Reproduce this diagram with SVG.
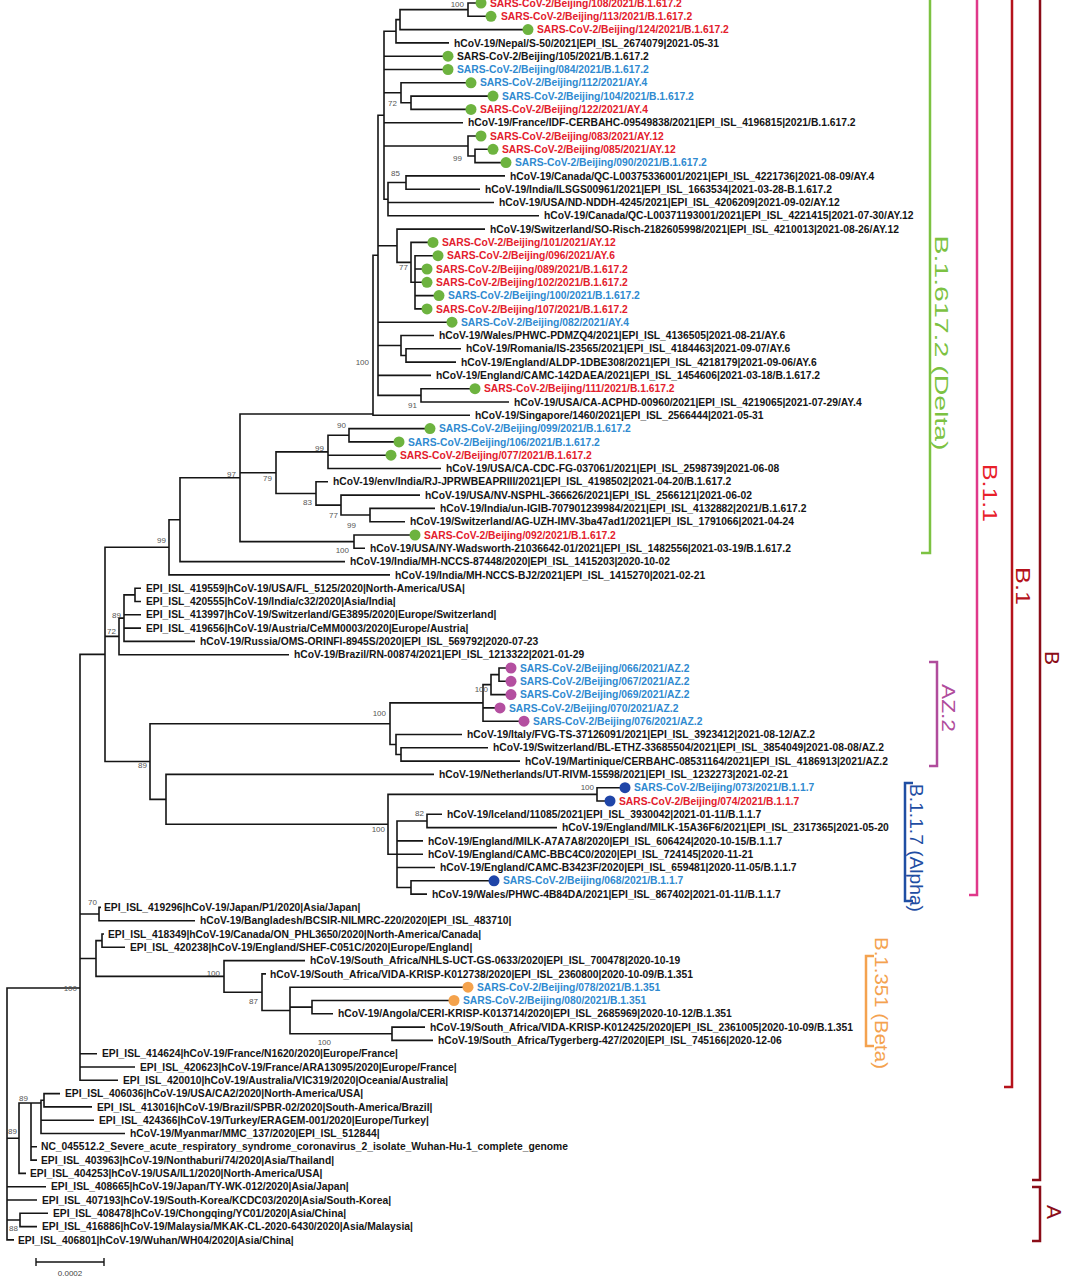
<svg xmlns="http://www.w3.org/2000/svg" width="1067" height="1280" viewBox="0 0 1067 1280">
<style>
.t{font-family:"Liberation Sans",Arial,sans-serif;font-size:10.3px;font-weight:bold;fill:#151515}
.r{fill:#e3202c}
.b{fill:#2f8ad0}
.bs{font-family:"Liberation Sans",Arial,sans-serif;font-size:8px;fill:#555;text-anchor:end}
.e{fill:none;stroke:#151515;stroke-width:1.6}
.dg{fill:#6db33f}.dp{fill:#b44fa0}.dn{fill:#1f45a8}.do{fill:#f4a24c}
.br{fill:none;stroke-width:2.5}
.bl{font-family:"Liberation Sans",Arial,sans-serif;font-weight:normal}
</style>
<rect width="1067" height="1280" fill="#fff"/>
<g id="connectors" class="e">
<path d="M476 3H468V16.3H486"/>
<path d="M468 9.65H400V29.6H523"/>
<path d="M400 19.6H396V42.9H449"/>
<path d="M466 82.8H401V102.75H411"/>
<path d="M488 96.1H411V109.4H466"/>
<path d="M488 149.3H475V162.6H501"/>
<path d="M476 136H468V155.95H475"/>
<path d="M505 175.9H406V189.2H480"/>
<path d="M406 182.55H388V215.8H539M388 202.5H494"/>
<path d="M396 31.3H384V199.2H388M384 56.2H443M384 69.5H443M384 92.8H401M384 122.7H463M384 146H468"/>
<path d="M433 255.7H415V308.9H422M415 269H422M415 282.3H422M415 295.6H434"/>
<path d="M428 242.4H411V282.3H415"/>
<path d="M485 229.1H397V262.35H411"/>
<path d="M461 348.8H406V362.1H456"/>
<path d="M434 335.5H401V355.45H406"/>
<path d="M470 388.7H421V402H509"/>
<path d="M384 115.25H378V395.35H421M378 245.7H397M378 322.2H447M378 345.5H401M378 375.4H431"/>
<path d="M378 255.3H373V415.3H470"/>
<path d="M425 428.6H349V441.9H394"/>
<path d="M349 435.25H328V468.5H441M328 455.2H386"/>
<path d="M435 508.4H370V521.7H405"/>
<path d="M420 495.1H341V515.05H370"/>
<path d="M328 481.8H316V505.1H341"/>
<path d="M328 451.9H276V493.45H316"/>
<path d="M410 535H354V548.3H365"/>
<path d="M373 414H240V541.65H354M240 472.7H276"/>
<path d="M240 477.8H180V561.6H345"/>
<path d="M180 519.7H169V574.9H390"/>
<path d="M141 588.2H135V601.5H141"/>
<path d="M135 594.85H124V641.4H195M124 614.8H141M124 628.1H141"/>
<path d="M124 618.1H119V654.7H289"/>
<path d="M506 668H499V681.3H506"/>
<path d="M499 674.65H491V694.6H506"/>
<path d="M491 684.6H483V721.2H519M483 707.9H495"/>
<path d="M488 747.8H401V761.1H520"/>
<path d="M462 734.5H396V754.45H401"/>
<path d="M483 702.9H390V744.5H396"/>
<path d="M620 787.7H597V801H605"/>
<path d="M442 814.3H427V827.6H557"/>
<path d="M489 880.8H411V894.1H427"/>
<path d="M427 820.95H397V887.45H411M397 840.9H423M397 854.2H423M397 867.5H435"/>
<path d="M597 794.35H388V854.2H397"/>
<path d="M434 774.4H166V824.3H388"/>
<path d="M390 723.7H150V799.35H166"/>
<path d="M169 547.3H105V761.5H150M105 636.4H119"/>
<path d="M101 907.4H99V920.7H195"/>
<path d="M104 934H102V947.3H125"/>
<path d="M102 940.65H96V976.4H224"/>
<path d="M425 1027.1H392V1040.4H433"/>
<path d="M449 1000.5H312V1013.8H333"/>
<path d="M463 987.2H290V1033.75H392M290 1007.15H312"/>
<path d="M266 973.9H262V1010.5H290"/>
<path d="M305 960.6H224V992.2H262"/>
<path d="M105 654.4H80V1080.3H118M80 914.05H99M80 958.5H96M80 1053.7H97M80 1067H135"/>
<path d="M60 1093.6H44V1106.9H92"/>
<path d="M44 1100.25H41V1133.5H125M41 1120.2H94"/>
<path d="M31 1103V1160.1H37M31 1146.8H37"/>
<path d="M41 1103H19V1173.4H26"/>
<path d="M48 1213.3H20V1226.6H37"/>
<path d="M80 988H7V1239.9H14M7 1138.2H19M7 1186.7H46M7 1200H37M7 1219.95H20"/>
</g>
<g id="bootstrap" class="bs">
<text x="464" y="6.5">100</text>
<text x="397" y="106">72</text>
<text x="462" y="161">99</text>
<text x="400" y="176">85</text>
<text x="408" y="270">77</text>
<text x="369" y="365">100</text>
<text x="417" y="408">91</text>
<text x="346" y="428">90</text>
<text x="324" y="451">99</text>
<text x="236" y="477">97</text>
<text x="272" y="481">79</text>
<text x="312" y="505">83</text>
<text x="338" y="518">77</text>
<text x="356" y="528">99</text>
<text x="349" y="553">100</text>
<text x="166" y="543">99</text>
<text x="121" y="618">89</text>
<text x="116" y="634">72</text>
<text x="488" y="692">100</text>
<text x="386" y="716">100</text>
<text x="147" y="768">89</text>
<text x="594" y="790">100</text>
<text x="424" y="816">82</text>
<text x="385" y="832">100</text>
<text x="97" y="905">70</text>
<text x="220" y="976">100</text>
<text x="258" y="1004">87</text>
<text x="331" y="1045">100</text>
<text x="77" y="991">100</text>
<text x="28" y="1101">89</text>
<text x="17" y="1134">89</text>
<text x="18" y="1231">88</text>
</g>
<g id="leaves">
<g id="L1"><circle class="dg" cx="481" cy="3" r="5.5"/><text class="t r" x="490" y="6.6">SARS-CoV-2/Beijing/108/2021/B.1.617.2</text></g>
<g id="L2"><circle class="dg" cx="491" cy="16.3" r="5.5"/><text class="t r" x="501" y="19.9">SARS-CoV-2/Beijing/113/2021/B.1.617.2</text></g>
<g id="L3"><circle class="dg" cx="528" cy="29.6" r="5.5"/><text class="t r" x="537" y="33.2">SARS-CoV-2/Beijing/124/2021/B.1.617.2</text></g>
<g id="L4"><text class="t" x="454" y="46.5">hCoV-19/Nepal/S-50/2021|EPI_ISL_2674079|2021-05-31</text></g>
<g id="L5"><circle class="dg" cx="448" cy="56.2" r="5.5"/><text class="t" x="457" y="59.8">SARS-CoV-2/Beijing/105/2021/B.1.617.2</text></g>
<g id="L6"><circle class="dg" cx="448" cy="69.5" r="5.5"/><text class="t b" x="457" y="73.1">SARS-CoV-2/Beijing/084/2021/B.1.617.2</text></g>
<g id="L7"><circle class="dg" cx="471" cy="82.8" r="5.5"/><text class="t b" x="480" y="86.4">SARS-CoV-2/Beijing/112/2021/AY.4</text></g>
<g id="L8"><circle class="dg" cx="493" cy="96.1" r="5.5"/><text class="t b" x="502" y="99.7">SARS-CoV-2/Beijing/104/2021/B.1.617.2</text></g>
<g id="L9"><circle class="dg" cx="471" cy="109.4" r="5.5"/><text class="t r" x="480" y="113">SARS-CoV-2/Beijing/122/2021/AY.4</text></g>
<g id="L10"><text class="t" x="468" y="126.3">hCoV-19/France/IDF-CERBAHC-09549838/2021|EPI_ISL_4196815|2021/B.1.617.2</text></g>
<g id="L11"><circle class="dg" cx="481" cy="136" r="5.5"/><text class="t r" x="490" y="139.6">SARS-CoV-2/Beijing/083/2021/AY.12</text></g>
<g id="L12"><circle class="dg" cx="493" cy="149.3" r="5.5"/><text class="t r" x="502" y="152.9">SARS-CoV-2/Beijing/085/2021/AY.12</text></g>
<g id="L13"><circle class="dg" cx="506" cy="162.6" r="5.5"/><text class="t b" x="515" y="166.2">SARS-CoV-2/Beijing/090/2021/B.1.617.2</text></g>
<g id="L14"><text class="t" x="510" y="179.5">hCoV-19/Canada/QC-L00375336001/2021|EPI_ISL_4221736|2021-08-09/AY.4</text></g>
<g id="L15"><text class="t" x="485" y="192.8">hCoV-19/India/ILSGS00961/2021|EPI_ISL_1663534|2021-03-28-B.1.617.2</text></g>
<g id="L16"><text class="t" x="499" y="206.1">hCoV-19/USA/ND-NDDH-4245/2021|EPI_ISL_4206209|2021-09-02/AY.12</text></g>
<g id="L17"><text class="t" x="544" y="219.4">hCoV-19/Canada/QC-L00371193001/2021|EPI_ISL_4221415|2021-07-30/AY.12</text></g>
<g id="L18"><text class="t" x="490" y="232.7">hCoV-19/Switzerland/SO-Risch-2182605998/2021|EPI_ISL_4210013|2021-08-26/AY.12</text></g>
<g id="L19"><circle class="dg" cx="433" cy="242.4" r="5.5"/><text class="t r" x="442" y="246">SARS-CoV-2/Beijing/101/2021/AY.12</text></g>
<g id="L20"><circle class="dg" cx="438" cy="255.7" r="5.5"/><text class="t r" x="447" y="259.3">SARS-CoV-2/Beijing/096/2021/AY.6</text></g>
<g id="L21"><circle class="dg" cx="427" cy="269" r="5.5"/><text class="t r" x="436" y="272.6">SARS-CoV-2/Beijing/089/2021/B.1.617.2</text></g>
<g id="L22"><circle class="dg" cx="427" cy="282.3" r="5.5"/><text class="t r" x="436" y="285.9">SARS-CoV-2/Beijing/102/2021/B.1.617.2</text></g>
<g id="L23"><circle class="dg" cx="439" cy="295.6" r="5.5"/><text class="t b" x="448" y="299.2">SARS-CoV-2/Beijing/100/2021/B.1.617.2</text></g>
<g id="L24"><circle class="dg" cx="427" cy="308.9" r="5.5"/><text class="t r" x="436" y="312.5">SARS-CoV-2/Beijing/107/2021/B.1.617.2</text></g>
<g id="L25"><circle class="dg" cx="452" cy="322.2" r="5.5"/><text class="t b" x="461" y="325.8">SARS-CoV-2/Beijing/082/2021/AY.4</text></g>
<g id="L26"><text class="t" x="439" y="339.1">hCoV-19/Wales/PHWC-PDMZQ4/2021|EPI_ISL_4136505|2021-08-21/AY.6</text></g>
<g id="L27"><text class="t" x="466" y="352.4">hCoV-19/Romania/IS-23565/2021|EPI_ISL_4184463|2021-09-07/AY.6</text></g>
<g id="L28"><text class="t" x="461" y="365.7">hCoV-19/England/ALDP-1DBE308/2021|EPI_ISL_4218179|2021-09-06/AY.6</text></g>
<g id="L29"><text class="t" x="436" y="379">hCoV-19/England/CAMC-142DAEA/2021|EPI_ISL_1454606|2021-03-18/B.1.617.2</text></g>
<g id="L30"><circle class="dg" cx="475" cy="388.7" r="5.5"/><text class="t r" x="484" y="392.3">SARS-CoV-2/Beijing/111/2021/B.1.617.2</text></g>
<g id="L31"><text class="t" x="514" y="405.6">hCoV-19/USA/CA-ACPHD-00960/2021|EPI_ISL_4219065|2021-07-29/AY.4</text></g>
<g id="L32"><text class="t" x="475" y="418.9">hCoV-19/Singapore/1460/2021|EPI_ISL_2566444|2021-05-31</text></g>
<g id="L33"><circle class="dg" cx="430" cy="428.6" r="5.5"/><text class="t b" x="439" y="432.2">SARS-CoV-2/Beijing/099/2021/B.1.617.2</text></g>
<g id="L34"><circle class="dg" cx="399" cy="441.9" r="5.5"/><text class="t b" x="408" y="445.5">SARS-CoV-2/Beijing/106/2021/B.1.617.2</text></g>
<g id="L35"><circle class="dg" cx="391" cy="455.2" r="5.5"/><text class="t r" x="400" y="458.8">SARS-CoV-2/Beijing/077/2021/B.1.617.2</text></g>
<g id="L36"><text class="t" x="446" y="472.1">hCoV-19/USA/CA-CDC-FG-037061/2021|EPI_ISL_2598739|2021-06-08</text></g>
<g id="L37"><text class="t" x="333" y="485.4">hCoV-19/env/India/RJ-JPRWBEAPRIII/2021|EPI_ISL_4198502|2021-04-20/B.1.617.2</text></g>
<g id="L38"><text class="t" x="425" y="498.7">hCoV-19/USA/NV-NSPHL-366626/2021|EPI_ISL_2566121|2021-06-02</text></g>
<g id="L39"><text class="t" x="440" y="512">hCoV-19/India/un-IGIB-707901239984/2021|EPI_ISL_4132882|2021/B.1.617.2</text></g>
<g id="L40"><text class="t" x="410" y="525.3">hCoV-19/Switzerland/AG-UZH-IMV-3ba47ad1/2021|EPI_ISL_1791066|2021-04-24</text></g>
<g id="L41"><circle class="dg" cx="415" cy="535" r="5.5"/><text class="t r" x="424" y="538.6">SARS-CoV-2/Beijing/092/2021/B.1.617.2</text></g>
<g id="L42"><text class="t" x="370" y="551.9">hCoV-19/USA/NY-Wadsworth-21036642-01/2021|EPI_ISL_1482556|2021-03-19/B.1.617.2</text></g>
<g id="L43"><text class="t" x="350" y="565.2">hCoV-19/India/MH-NCCS-87448/2020|EPI_ISL_1415203|2020-10-02</text></g>
<g id="L44"><text class="t" x="395" y="578.5">hCoV-19/India/MH-NCCS-BJ2/2021|EPI_ISL_1415270|2021-02-21</text></g>
<g id="L45"><text class="t" x="146" y="591.8">EPI_ISL_419559|hCoV-19/USA/FL_5125/2020|North-America/USA|</text></g>
<g id="L46"><text class="t" x="146" y="605.1">EPI_ISL_420555|hCoV-19/India/c32/2020|Asia/India|</text></g>
<g id="L47"><text class="t" x="146" y="618.4">EPI_ISL_413997|hCoV-19/Switzerland/GE3895/2020|Europe/Switzerland|</text></g>
<g id="L48"><text class="t" x="146" y="631.7">EPI_ISL_419656|hCoV-19/Austria/CeMM0003/2020|Europe/Austria|</text></g>
<g id="L49"><text class="t" x="200" y="645">hCoV-19/Russia/OMS-ORINFI-8945S/2020|EPI_ISL_569792|2020-07-23</text></g>
<g id="L50"><text class="t" x="294" y="658.3">hCoV-19/Brazil/RN-00874/2021|EPI_ISL_1213322|2021-01-29</text></g>
<g id="L51"><circle class="dp" cx="511" cy="668" r="5.5"/><text class="t b" x="520" y="671.6">SARS-CoV-2/Beijing/066/2021/AZ.2</text></g>
<g id="L52"><circle class="dp" cx="511" cy="681.3" r="5.5"/><text class="t b" x="520" y="684.9">SARS-CoV-2/Beijing/067/2021/AZ.2</text></g>
<g id="L53"><circle class="dp" cx="511" cy="694.6" r="5.5"/><text class="t b" x="520" y="698.2">SARS-CoV-2/Beijing/069/2021/AZ.2</text></g>
<g id="L54"><circle class="dp" cx="500" cy="707.9" r="5.5"/><text class="t b" x="509" y="711.5">SARS-CoV-2/Beijing/070/2021/AZ.2</text></g>
<g id="L55"><circle class="dp" cx="524" cy="721.2" r="5.5"/><text class="t b" x="533" y="724.8">SARS-CoV-2/Beijing/076/2021/AZ.2</text></g>
<g id="L56"><text class="t" x="467" y="738.1">hCoV-19/Italy/FVG-TS-37126091/2021|EPI_ISL_3923412|2021-08-12/AZ.2</text></g>
<g id="L57"><text class="t" x="493" y="751.4">hCoV-19/Switzerland/BL-ETHZ-33685504/2021|EPI_ISL_3854049|2021-08-08/AZ.2</text></g>
<g id="L58"><text class="t" x="525" y="764.7">hCoV-19/Martinique/CERBAHC-08531164/2021|EPI_ISL_4186913|2021/AZ.2</text></g>
<g id="L59"><text class="t" x="439" y="778">hCoV-19/Netherlands/UT-RIVM-15598/2021|EPI_ISL_1232273|2021-02-21</text></g>
<g id="L60"><circle class="dn" cx="625" cy="787.7" r="5.5"/><text class="t b" x="634" y="791.3">SARS-CoV-2/Beijing/073/2021/B.1.1.7</text></g>
<g id="L61"><circle class="dn" cx="610" cy="801" r="5.5"/><text class="t r" x="619" y="804.6">SARS-CoV-2/Beijing/074/2021/B.1.1.7</text></g>
<g id="L62"><text class="t" x="447" y="817.9">hCoV-19/Iceland/11085/2021|EPI_ISL_3930042|2021-01-11/B.1.1.7</text></g>
<g id="L63"><text class="t" x="562" y="831.2">hCoV-19/England/MILK-15A36F6/2021|EPI_ISL_2317365|2021-05-20</text></g>
<g id="L64"><text class="t" x="428" y="844.5">hCoV-19/England/MILK-A7A7A8/2020|EPI_ISL_606424|2020-10-15/B.1.1.7</text></g>
<g id="L65"><text class="t" x="428" y="857.8">hCoV-19/England/CAMC-BBC4C0/2020|EPI_ISL_724145|2020-11-21</text></g>
<g id="L66"><text class="t" x="440" y="871.1">hCoV-19/England/CAMC-B3423F/2020|EPI_ISL_659481|2020-11-05/B.1.1.7</text></g>
<g id="L67"><circle class="dn" cx="494" cy="880.8" r="5.5"/><text class="t b" x="503" y="884.4">SARS-CoV-2/Beijing/068/2021/B.1.1.7</text></g>
<g id="L68"><text class="t" x="432" y="897.7">hCoV-19/Wales/PHWC-4B84DA/2021|EPI_ISL_867402|2021-01-11/B.1.1.7</text></g>
<g id="L69"><text class="t" x="104" y="911">EPI_ISL_419296|hCoV-19/Japan/P1/2020|Asia/Japan|</text></g>
<g id="L70"><text class="t" x="200" y="924.3">hCoV-19/Bangladesh/BCSIR-NILMRC-220/2020|EPI_ISL_483710|</text></g>
<g id="L71"><text class="t" x="108" y="937.6">EPI_ISL_418349|hCoV-19/Canada/ON_PHL3650/2020|North-America/Canada|</text></g>
<g id="L72"><text class="t" x="130" y="950.9">EPI_ISL_420238|hCoV-19/England/SHEF-C051C/2020|Europe/England|</text></g>
<g id="L73"><text class="t" x="310" y="964.2">hCoV-19/South_Africa/NHLS-UCT-GS-0633/2020|EPI_ISL_700478|2020-10-19</text></g>
<g id="L74"><text class="t" x="270" y="977.5">hCoV-19/South_Africa/VIDA-KRISP-K012738/2020|EPI_ISL_2360800|2020-10-09/B.1.351</text></g>
<g id="L75"><circle class="do" cx="468" cy="987.2" r="5.5"/><text class="t b" x="477" y="990.8">SARS-CoV-2/Beijing/078/2021/B.1.351</text></g>
<g id="L76"><circle class="do" cx="454" cy="1000.5" r="5.5"/><text class="t b" x="463" y="1004.1">SARS-CoV-2/Beijing/080/2021/B.1.351</text></g>
<g id="L77"><text class="t" x="338" y="1017.4">hCoV-19/Angola/CERI-KRISP-K013714/2020|EPI_ISL_2685969|2020-10-12/B.1.351</text></g>
<g id="L78"><text class="t" x="430" y="1030.7">hCoV-19/South_Africa/VIDA-KRISP-K012425/2020|EPI_ISL_2361005|2020-10-09/B.1.351</text></g>
<g id="L79"><text class="t" x="438" y="1044">hCoV-19/South_Africa/Tygerberg-427/2020|EPI_ISL_745166|2020-12-06</text></g>
<g id="L80"><text class="t" x="102" y="1057.3">EPI_ISL_414624|hCoV-19/France/N1620/2020|Europe/France|</text></g>
<g id="L81"><text class="t" x="140" y="1070.6">EPI_ISL_420623|hCoV-19/France/ARA13095/2020|Europe/France|</text></g>
<g id="L82"><text class="t" x="123" y="1083.9">EPI_ISL_420010|hCoV-19/Australia/VIC319/2020|Oceania/Australia|</text></g>
<g id="L83"><text class="t" x="65" y="1097.2">EPI_ISL_406036|hCoV-19/USA/CA2/2020|North-America/USA|</text></g>
<g id="L84"><text class="t" x="97" y="1110.5">EPI_ISL_413016|hCoV-19/Brazil/SPBR-02/2020|South-America/Brazil|</text></g>
<g id="L85"><text class="t" x="99" y="1123.8">EPI_ISL_424366|hCoV-19/Turkey/ERAGEM-001/2020|Europe/Turkey|</text></g>
<g id="L86"><text class="t" x="130" y="1137.1">hCoV-19/Myanmar/MMC_137/2020|EPI_ISL_512844|</text></g>
<g id="L87"><text class="t" x="41" y="1150.4">NC_045512.2_Severe_acute_respiratory_syndrome_coronavirus_2_isolate_Wuhan-Hu-1_complete_genome</text></g>
<g id="L88"><text class="t" x="41" y="1163.7">EPI_ISL_403963|hCoV-19/Nonthaburi/74/2020|Asia/Thailand|</text></g>
<g id="L89"><text class="t" x="30" y="1177">EPI_ISL_404253|hCoV-19/USA/IL1/2020|North-America/USA|</text></g>
<g id="L90"><text class="t" x="51" y="1190.3">EPI_ISL_408665|hCoV-19/Japan/TY-WK-012/2020|Asia/Japan|</text></g>
<g id="L91"><text class="t" x="42" y="1203.6">EPI_ISL_407193|hCoV-19/South-Korea/KCDC03/2020|Asia/South-Korea|</text></g>
<g id="L92"><text class="t" x="53" y="1216.9">EPI_ISL_408478|hCoV-19/Chongqing/YC01/2020|Asia/China|</text></g>
<g id="L93"><text class="t" x="42" y="1230.2">EPI_ISL_416886|hCoV-19/Malaysia/MKAK-CL-2020-6430/2020|Asia/Malaysia|</text></g>
<g id="L94"><text class="t" x="18" y="1243.5">EPI_ISL_406801|hCoV-19/Wuhan/WH04/2020|Asia/China|</text></g>
</g>
<g id="brackets">
<g id="br-delta"><path class="br" stroke="#7cc242" d="M930 -2V553H921"/><text class="bl" transform="translate(942 343) rotate(90)" x="0" y="6.8" font-size="19" fill="#7cc242" text-anchor="middle" textLength="215" lengthAdjust="spacingAndGlyphs">B.1.617.2 (Delta)</text></g>
<g id="br-b11"><path class="br" stroke="#e0388a" d="M977 -2V895H969"/><text class="bl" transform="translate(990 493) rotate(90)" x="0" y="7.2" font-size="20" fill="#e8202a" text-anchor="middle" textLength="58" lengthAdjust="spacingAndGlyphs">B.1.1</text></g>
<g id="br-b1"><path class="br" stroke="#b5121b" d="M1012 -2V1087H1004"/><text class="bl" transform="translate(1023 586) rotate(90)" x="0" y="7.2" font-size="20" fill="#b5121b" text-anchor="middle" textLength="38" lengthAdjust="spacingAndGlyphs">B.1</text></g>
<g id="br-b"><path class="br" stroke="#8b0d18" d="M1040 -2V1180H1032"/><text class="bl" transform="translate(1052 658) rotate(90)" x="0" y="7.5" font-size="21" fill="#8b0d18" text-anchor="middle">B</text></g>
<g id="br-a"><path class="br" stroke="#8b0d18" d="M1032 1187H1040V1241H1032"/><text class="bl" transform="translate(1054 1212) rotate(90)" x="0" y="7.5" font-size="21" fill="#8b0d18" text-anchor="middle">A</text></g>
<g id="br-az2"><path class="br" stroke="#b04c9c" d="M929 662H937V766H929"/><text class="bl" transform="translate(948 708) rotate(90)" x="0" y="6.5" font-size="18" fill="#b04c9c" text-anchor="middle" textLength="48" lengthAdjust="spacingAndGlyphs">AZ.2</text></g>
<g id="br-alpha"><path class="br" stroke="#1f4ea3" d="M913 783H905V901H913"/><text class="bl" transform="translate(916 848) rotate(90)" x="0" y="6.5" font-size="18" fill="#1f4ea3" text-anchor="middle" textLength="128" lengthAdjust="spacingAndGlyphs">B.1.1.7 (Alpha)</text></g>
<g id="br-beta"><path class="br" stroke="#f4a24f" d="M874 956H866V1046H874"/><text class="bl" transform="translate(881 1003) rotate(90)" x="0" y="6.5" font-size="18" fill="#f4a24f" text-anchor="middle" textLength="132" lengthAdjust="spacingAndGlyphs">B.1.351 (Beta)</text></g>
</g>
<g id="scalebar">
<path d="M36 1262H104M36 1258V1266M104 1258V1266" fill="none" stroke="#151515" stroke-width="1.4"/>
<text x="70" y="1276" font-family="Liberation Sans,Arial,sans-serif" font-size="8" fill="#444" text-anchor="middle">0.0002</text>
</g>
</svg>
